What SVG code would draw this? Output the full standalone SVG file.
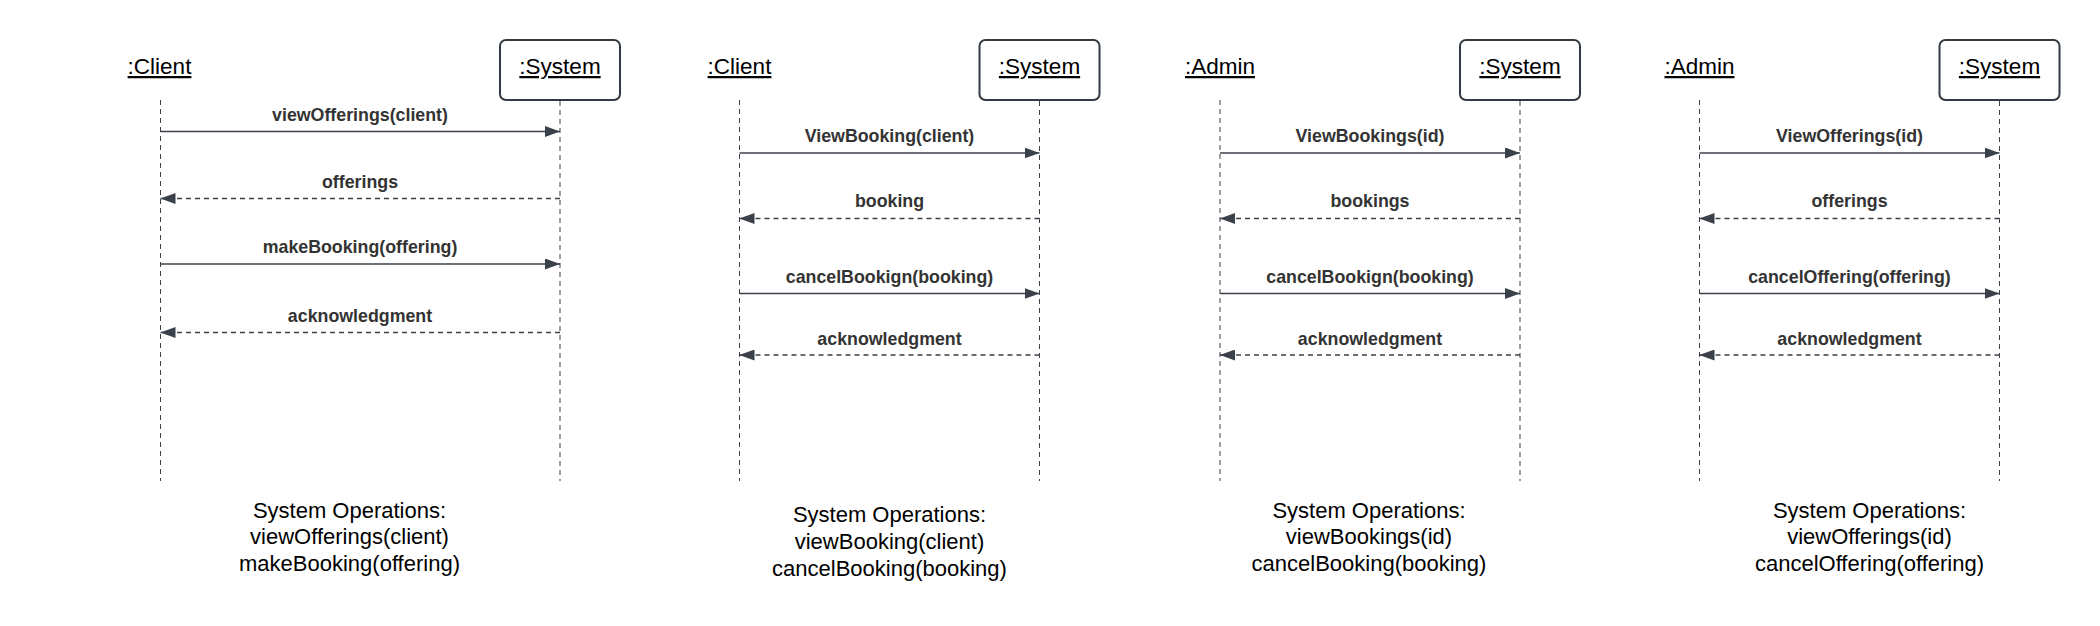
<svg xmlns="http://www.w3.org/2000/svg" width="2100" height="626" viewBox="0 0 2100 626">
<style>
.bg{fill:#ffffff}
.name{font-family:"Liberation Sans",Arial,sans-serif;font-size:22.5px;fill:#000;text-anchor:middle;text-decoration:underline}
.box{fill:#ffffff;stroke:#333a42;stroke-width:2}
.life{stroke:#3a414a;stroke-width:1;stroke-dasharray:5 4;fill:none}
.call{stroke:#3a414a;stroke-width:1.3;fill:none}
.ret{stroke:#3a414a;stroke-width:1.3;stroke-dasharray:5 4;fill:none}
.lbl{font-family:"Liberation Sans",Arial,sans-serif;font-size:17.8px;font-weight:bold;fill:#333333;text-anchor:middle}
.ops{font-family:"Liberation Sans",Arial,sans-serif;font-size:22px;fill:#000;text-anchor:middle}
</style>
<defs>
<marker id="ah" viewBox="0 0 15 11" refX="15" refY="5.5" markerWidth="15" markerHeight="11" markerUnits="userSpaceOnUse" orient="auto">
<path d="M0,0 L15,5.5 L0,11 Z" fill="#3a414a"/>
</marker>
</defs>
<rect class="bg" x="0" y="0" width="2100" height="626"/>

<g id="lifelines">
<line class="life" x1="160.5" y1="100" x2="160.5" y2="481"/>
<line class="life" x1="560" y1="101" x2="560" y2="481"/>
<line class="life" x1="739.5" y1="100" x2="739.5" y2="481"/>
<line class="life" x1="1039.5" y1="101" x2="1039.5" y2="481"/>
<line class="life" x1="1220" y1="100" x2="1220" y2="481"/>
<line class="life" x1="1520" y1="101" x2="1520" y2="481"/>
<line class="life" x1="1699.5" y1="100" x2="1699.5" y2="481"/>
<line class="life" x1="1999.5" y1="101" x2="1999.5" y2="481"/>
</g>

<g id="p1-client"><text class="name" x="159.5" y="74">:Client</text></g>
<g id="p1-system"><rect class="box" x="500" y="40" width="120" height="60" rx="6"/><text class="name" x="560" y="74">:System</text></g>
<g id="p2-client"><text class="name" x="739.5" y="74">:Client</text></g>
<g id="p2-system"><rect class="box" x="979.5" y="40" width="120" height="60" rx="6"/><text class="name" x="1039.5" y="74">:System</text></g>
<g id="p3-admin"><text class="name" x="1220" y="74">:Admin</text></g>
<g id="p3-system"><rect class="box" x="1460" y="40" width="120" height="60" rx="6"/><text class="name" x="1520" y="74">:System</text></g>
<g id="p4-admin"><text class="name" x="1699.5" y="74">:Admin</text></g>
<g id="p4-system"><rect class="box" x="1939.5" y="40" width="120" height="60" rx="6"/><text class="name" x="1999.5" y="74">:System</text></g>

<g id="connectors">
<line class="call" x1="160.5" y1="131.5" x2="560" y2="131.5" marker-end="url(#ah)"/>
<line class="ret" x1="560" y1="198.5" x2="160.5" y2="198.5" marker-end="url(#ah)"/>
<line class="call" x1="160.5" y1="264" x2="560" y2="264" marker-end="url(#ah)"/>
<line class="ret" x1="560" y1="332.5" x2="160.5" y2="332.5" marker-end="url(#ah)"/>

<line class="call" x1="739.5" y1="153" x2="1039.5" y2="153" marker-end="url(#ah)"/>
<line class="ret" x1="1039.5" y1="218.5" x2="739.5" y2="218.5" marker-end="url(#ah)"/>
<line class="call" x1="739.5" y1="293.5" x2="1039.5" y2="293.5" marker-end="url(#ah)"/>
<line class="ret" x1="1039.5" y1="355" x2="739.5" y2="355" marker-end="url(#ah)"/>

<line class="call" x1="1220" y1="153" x2="1520" y2="153" marker-end="url(#ah)"/>
<line class="ret" x1="1520" y1="218.5" x2="1220" y2="218.5" marker-end="url(#ah)"/>
<line class="call" x1="1220" y1="293.5" x2="1520" y2="293.5" marker-end="url(#ah)"/>
<line class="ret" x1="1520" y1="355" x2="1220" y2="355" marker-end="url(#ah)"/>

<line class="call" x1="1699.5" y1="153" x2="1999.5" y2="153" marker-end="url(#ah)"/>
<line class="ret" x1="1999.5" y1="218.5" x2="1699.5" y2="218.5" marker-end="url(#ah)"/>
<line class="call" x1="1699.5" y1="293.5" x2="1999.5" y2="293.5" marker-end="url(#ah)"/>
<line class="ret" x1="1999.5" y1="355" x2="1699.5" y2="355" marker-end="url(#ah)"/>
</g>

<g id="labels">
<text class="lbl" x="360" y="121">viewOfferings(client)</text>
<text class="lbl" x="360" y="188">offerings</text>
<text class="lbl" x="360" y="253">makeBooking(offering)</text>
<text class="lbl" x="360" y="322">acknowledgment</text>

<text class="lbl" x="889.5" y="142">ViewBooking(client)</text>
<text class="lbl" x="889.5" y="207">booking</text>
<text class="lbl" x="889.5" y="283">cancelBookign(booking)</text>
<text class="lbl" x="889.5" y="345">acknowledgment</text>

<text class="lbl" x="1370" y="142">ViewBookings(id)</text>
<text class="lbl" x="1370" y="207">bookings</text>
<text class="lbl" x="1370" y="283">cancelBookign(booking)</text>
<text class="lbl" x="1370" y="345">acknowledgment</text>

<text class="lbl" x="1849.5" y="142">ViewOfferings(id)</text>
<text class="lbl" x="1849.5" y="207">offerings</text>
<text class="lbl" x="1849.5" y="283">cancelOffering(offering)</text>
<text class="lbl" x="1849.5" y="345">acknowledgment</text>
</g>

<g id="ops1">
<text class="ops" x="349.5" y="518">System Operations:</text>
<text class="ops" x="349.5" y="544">viewOfferings(client)</text>
<text class="ops" x="349.5" y="571">makeBooking(offering)</text>
</g>
<g id="ops2">
<text class="ops" x="889.5" y="522">System Operations:</text>
<text class="ops" x="889.5" y="549">viewBooking(client)</text>
<text class="ops" x="889.5" y="576">cancelBooking(booking)</text>
</g>
<g id="ops3">
<text class="ops" x="1369" y="518">System Operations:</text>
<text class="ops" x="1369" y="544">viewBookings(id)</text>
<text class="ops" x="1369" y="571">cancelBooking(booking)</text>
</g>
<g id="ops4">
<text class="ops" x="1869.5" y="518">System Operations:</text>
<text class="ops" x="1869.5" y="544">viewOfferings(id)</text>
<text class="ops" x="1869.5" y="571">cancelOffering(offering)</text>
</g>
</svg>
